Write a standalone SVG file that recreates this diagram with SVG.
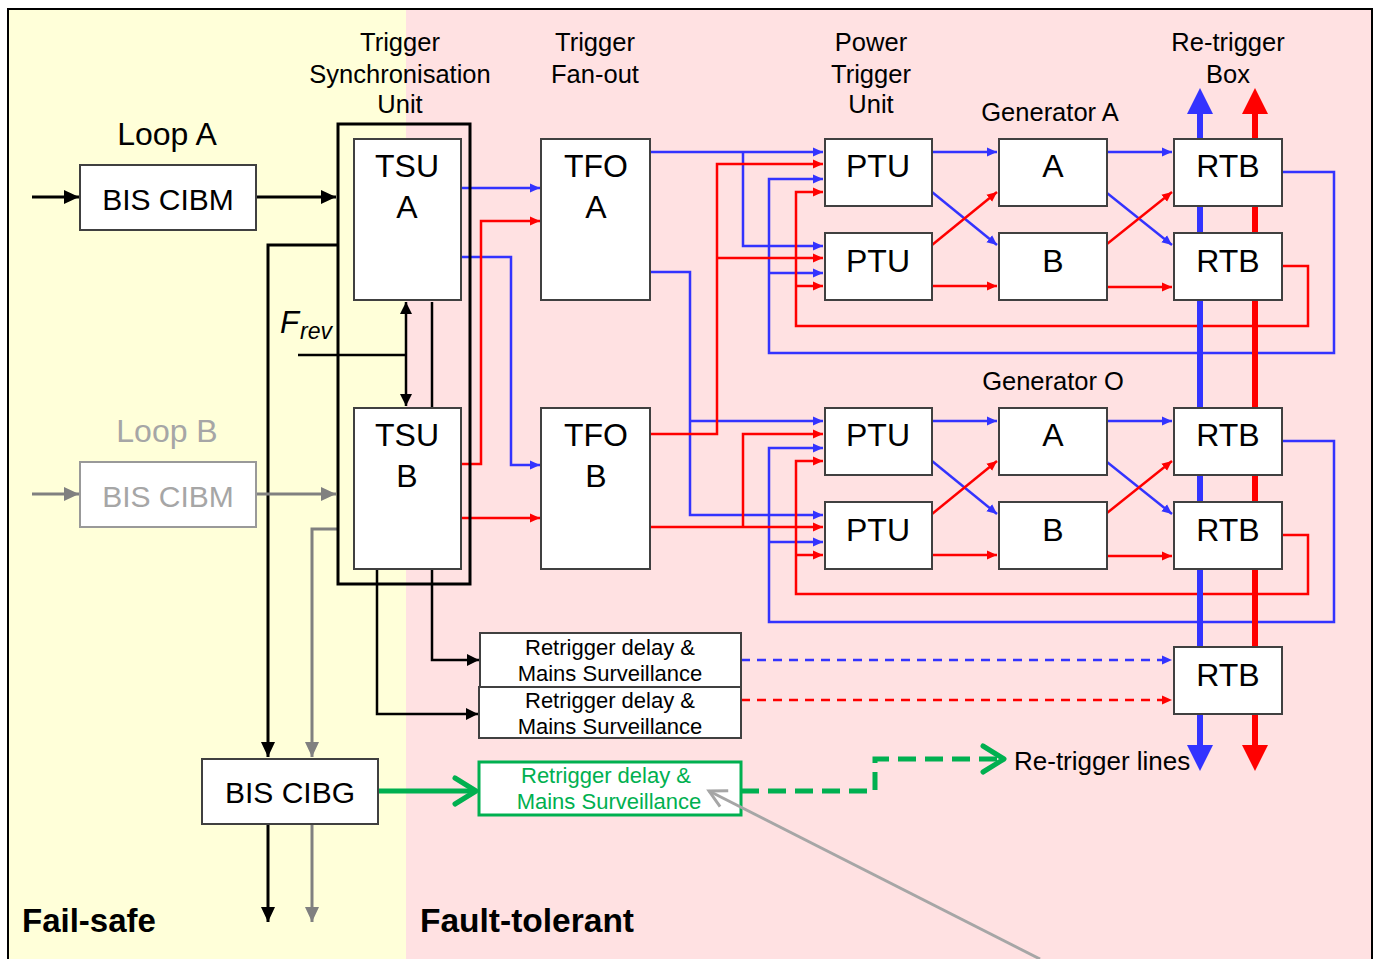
<svg xmlns="http://www.w3.org/2000/svg" width="1376" height="959" viewBox="0 0 1376 959">
<style>
.box{fill:#fff;stroke:#404040;stroke-width:2}
.gbox{fill:#fff;stroke:#999;stroke-width:2}
.t{font-family:"Liberation Sans",Arial,sans-serif;fill:#000}
.big{font-size:32px;text-anchor:middle}
.ttl{font-size:25.5px;text-anchor:middle}
.rt{font-size:22px;text-anchor:middle}
.bl{fill:none;stroke:#3333FF;stroke-width:2.5}
.rd{fill:none;stroke:#FF0000;stroke-width:2.5}
.bk{fill:none;stroke:#000;stroke-width:3}
.gr{fill:none;stroke:#808080;stroke-width:3}
</style>
<defs>
<marker id="aB" markerUnits="userSpaceOnUse" markerWidth="11" markerHeight="10" refX="10" refY="5" orient="auto"><path d="M0,0.5 L10,5 L0,9.5z" fill="#3333FF"/></marker>
<marker id="aR" markerUnits="userSpaceOnUse" markerWidth="11" markerHeight="10" refX="10" refY="5" orient="auto"><path d="M0,0.5 L10,5 L0,9.5z" fill="#FF0000"/></marker>
<marker id="aK" markerUnits="userSpaceOnUse" markerWidth="16" markerHeight="14" refX="15" refY="7" orient="auto"><path d="M0,0 L15,7 L0,14z" fill="#000"/></marker>
<marker id="aK2" markerUnits="userSpaceOnUse" markerWidth="13" markerHeight="12" refX="12" refY="6" orient="auto-start-reverse"><path d="M0,0 L12,6 L0,12z" fill="#000"/></marker>
<marker id="aG" markerUnits="userSpaceOnUse" markerWidth="16" markerHeight="14" refX="15" refY="7" orient="auto"><path d="M0,0 L15,7 L0,14z" fill="#808080"/></marker>
<marker id="bigB" markerUnits="userSpaceOnUse" markerWidth="28" markerHeight="28" refX="0" refY="14" orient="auto-start-reverse"><path d="M0,1 L26,14 L0,27z" fill="#3333FF"/></marker>
<marker id="bigR" markerUnits="userSpaceOnUse" markerWidth="28" markerHeight="28" refX="0" refY="14" orient="auto-start-reverse"><path d="M0,1 L26,14 L0,27z" fill="#FF0000"/></marker>
<marker id="chG" markerUnits="userSpaceOnUse" markerWidth="30" markerHeight="34" refX="25" refY="17" orient="auto"><path d="M4,4 L25,17 L4,30" fill="none" stroke="#00B050" stroke-width="5" stroke-linecap="round" stroke-linejoin="round"/></marker>
<marker id="chL" markerUnits="userSpaceOnUse" markerWidth="24" markerHeight="24" refX="20" refY="12" orient="auto"><path d="M3,3 L20,12 L3,21" fill="none" stroke="#A6A6A6" stroke-width="3"/></marker>
</defs>

<g id="background">
<rect x="8" y="9" width="398" height="960" fill="#FFFFD9"/>
<rect x="406" y="9" width="966" height="960" fill="#FFE1E2"/>
<rect x="8" y="9" width="1364" height="960" fill="none" stroke="#000" stroke-width="2"/>
</g>

<g id="labels">
<text class="t ttl" x="400" y="51">Trigger</text>
<text class="t ttl" x="400" y="83">Synchronisation</text>
<text class="t ttl" x="400" y="113">Unit</text>
<text class="t ttl" x="595" y="51">Trigger</text>
<text class="t ttl" x="595" y="83">Fan-out</text>
<text class="t ttl" x="871" y="51">Power</text>
<text class="t ttl" x="871" y="83">Trigger</text>
<text class="t ttl" x="871" y="113">Unit</text>
<text class="t ttl" x="1228" y="51">Re-trigger</text>
<text class="t ttl" x="1228" y="83">Box</text>
<text class="t ttl" x="1050" y="121">Generator A</text>
<text class="t ttl" x="1053" y="390">Generator O</text>
<text class="t big" x="167" y="145" style="font-size:32px">Loop A</text>
<text class="t big" x="167" y="442" style="font-size:32px;fill:#A6A6A6">Loop B</text>
<text class="t" x="280" y="333" style="font-size:31px;font-style:italic">F</text>
<text class="t" x="300" y="339" style="font-size:23px;font-style:italic">rev</text>
<text class="t" x="22" y="932" style="font-size:33px;font-weight:bold">Fail-safe</text>
<text class="t" x="420" y="932" style="font-size:33.5px;font-weight:bold">Fault-tolerant</text>
<text class="t" x="1014" y="770" style="font-size:26px">Re-trigger lines</text>
</g>

<g id="connectors">
<path class="bk" d="M32,197 H79" marker-end="url(#aK)"/>
<path class="bk" d="M256,197 H336" marker-end="url(#aK)"/>
<path class="bk" d="M338,245 H268 V757" marker-end="url(#aK)"/>
<path class="bk" d="M268,824 V922" marker-end="url(#aK)"/>
<path class="bk" d="M298,355 H406" style="stroke-width:2.5"/>
<path class="bk" d="M406,302 V406" style="stroke-width:2.5" marker-start="url(#aK2)" marker-end="url(#aK2)"/>
<path class="bk" d="M432,302 V408" style="stroke-width:2.5"/>
<path class="bk" d="M377,569 V714 H478" style="stroke-width:2.5" marker-end="url(#aK2)"/>
<path class="bk" d="M432,569 V660 H479" style="stroke-width:2.5" marker-end="url(#aK2)"/>
<path class="gr" d="M32,494 H79" marker-end="url(#aG)"/>
<path class="gr" d="M256,494 H336" marker-end="url(#aG)"/>
<path class="gr" d="M338,529 H312 V757" marker-end="url(#aG)"/>
<path class="gr" d="M312,824 V922" marker-end="url(#aG)"/>
<path class="bl" d="M461,188 H540" marker-end="url(#aB)"/>
<path class="bl" d="M461,257 H511 V465 H540" marker-end="url(#aB)"/>
<path class="bl" d="M650,152 H823" marker-end="url(#aB)"/>
<path class="bl" d="M743,152 V246 H823" marker-end="url(#aB)"/>
<path class="bl" d="M650,272 H690 V515 H823" marker-end="url(#aB)"/>
<path class="bl" d="M690,421 H823" marker-end="url(#aB)"/>
<path class="bl" d="M1282,172 H1334 V353 H769 V179 H823" marker-end="url(#aB)"/>
<path class="bl" d="M769,273 H823" marker-end="url(#aB)"/>
<path class="bl" d="M1282,441 H1334 V622 H769 V448 H823" marker-end="url(#aB)"/>
<path class="bl" d="M769,542 H823" marker-end="url(#aB)"/>
<path class="bl" d="M932,152 H997" marker-end="url(#aB)"/>
<path class="bl" d="M932,192 L997,245" marker-end="url(#aB)"/>
<path class="bl" d="M932,421 H997" marker-end="url(#aB)"/>
<path class="bl" d="M932,461 L997,514" marker-end="url(#aB)"/>
<path class="bl" d="M1107,152 H1172" marker-end="url(#aB)"/>
<path class="bl" d="M1107,193 L1172,245" marker-end="url(#aB)"/>
<path class="bl" d="M1107,421 H1172" marker-end="url(#aB)"/>
<path class="bl" d="M1107,462 L1172,514" marker-end="url(#aB)"/>
<path class="bl" d="M741,660 H1172" style="stroke-dasharray:9,7" marker-end="url(#aB)"/>
<path class="rd" d="M461,464 H481 V221 H540" marker-end="url(#aR)"/>
<path class="rd" d="M461,518 H540" marker-end="url(#aR)"/>
<path class="rd" d="M650,434 H717 V164 H823" marker-end="url(#aR)"/>
<path class="rd" d="M717,258 H823" marker-end="url(#aR)"/>
<path class="rd" d="M650,527 H823" marker-end="url(#aR)"/>
<path class="rd" d="M743,527 V434 H823" marker-end="url(#aR)"/>
<path class="rd" d="M1282,266 H1308 V326 H796 V192 H823" marker-end="url(#aR)"/>
<path class="rd" d="M796,286 H823" marker-end="url(#aR)"/>
<path class="rd" d="M1282,535 H1308 V594 H796 V461 H823" marker-end="url(#aR)"/>
<path class="rd" d="M796,555 H823" marker-end="url(#aR)"/>
<path class="rd" d="M932,245 L997,192" marker-end="url(#aR)"/>
<path class="rd" d="M932,286 H997" marker-end="url(#aR)"/>
<path class="rd" d="M932,514 L997,461" marker-end="url(#aR)"/>
<path class="rd" d="M932,555 H997" marker-end="url(#aR)"/>
<path class="rd" d="M1107,244 L1172,192" marker-end="url(#aR)"/>
<path class="rd" d="M1107,287 H1172" marker-end="url(#aR)"/>
<path class="rd" d="M1107,513 L1172,461" marker-end="url(#aR)"/>
<path class="rd" d="M1107,556 H1172" marker-end="url(#aR)"/>
<path class="rd" d="M741,700 H1172" style="stroke-dasharray:9,7" marker-end="url(#aR)"/>
<path d="M1200,745 V114" fill="none" stroke="#3333FF" stroke-width="6" marker-start="url(#bigB)" marker-end="url(#bigB)"/>
<path d="M1255,745 V114" fill="none" stroke="#FF0000" stroke-width="6" marker-start="url(#bigR)" marker-end="url(#bigR)"/>
<path d="M378,791 H476" fill="none" stroke="#00B050" stroke-width="5" marker-end="url(#chG)"/>
<path d="M741,791 H875 V759 H1004" fill="none" stroke="#00B050" stroke-width="5" stroke-dasharray="18,9" marker-end="url(#chG)"/>
</g>

<g id="bis-cibm-a"><rect class="box" x="80" y="165" width="176" height="65"/><text class="t big" x="168" y="210" style="font-size:30px">BIS CIBM</text></g>
<g id="bis-cibm-b"><rect class="gbox" x="80" y="462" width="176" height="65"/><text class="t big" x="168" y="507" style="font-size:30px;fill:#A6A6A6">BIS CIBM</text></g>
<g id="bis-cibg"><rect class="box" x="202" y="759" width="176" height="65"/><text class="t big" x="290" y="803" style="font-size:30px">BIS CIBG</text></g>

<g id="tsu"><rect x="338" y="124" width="132" height="460" fill="none" stroke="#000" stroke-width="3"/></g>
<g id="tsu-a"><rect class="box" x="354" y="139" width="107" height="161"/><text class="t big" x="407" y="177">TSU</text><text class="t big" x="407" y="218">A</text></g>
<g id="tsu-b"><rect class="box" x="354" y="408" width="107" height="161"/><text class="t big" x="407" y="446">TSU</text><text class="t big" x="407" y="487">B</text></g>
<g id="tfo-a"><rect class="box" x="541" y="139" width="109" height="161"/><text class="t big" x="596" y="177">TFO</text><text class="t big" x="596" y="218">A</text></g>
<g id="tfo-b"><rect class="box" x="541" y="408" width="109" height="161"/><text class="t big" x="596" y="446">TFO</text><text class="t big" x="596" y="487">B</text></g>

<g id="ptu-1"><rect class="box" x="825" y="139" width="107" height="67"/><text class="t big" x="878" y="177">PTU</text></g>
<g id="ptu-2"><rect class="box" x="825" y="233" width="107" height="67"/><text class="t big" x="878" y="272">PTU</text></g>
<g id="ptu-3"><rect class="box" x="825" y="408" width="107" height="67"/><text class="t big" x="878" y="446">PTU</text></g>
<g id="ptu-4"><rect class="box" x="825" y="502" width="107" height="67"/><text class="t big" x="878" y="541">PTU</text></g>

<g id="gen-a-a"><rect class="box" x="999" y="139" width="108" height="67"/><text class="t big" x="1053" y="177">A</text></g>
<g id="gen-a-b"><rect class="box" x="999" y="233" width="108" height="67"/><text class="t big" x="1053" y="272">B</text></g>
<g id="gen-o-a"><rect class="box" x="999" y="408" width="108" height="67"/><text class="t big" x="1053" y="446">A</text></g>
<g id="gen-o-b"><rect class="box" x="999" y="502" width="108" height="67"/><text class="t big" x="1053" y="541">B</text></g>

<g id="rtb-1"><rect class="box" x="1174" y="139" width="108" height="67"/><text class="t big" x="1228" y="177">RTB</text></g>
<g id="rtb-2"><rect class="box" x="1174" y="233" width="108" height="67"/><text class="t big" x="1228" y="272">RTB</text></g>
<g id="rtb-3"><rect class="box" x="1174" y="408" width="108" height="67"/><text class="t big" x="1228" y="446">RTB</text></g>
<g id="rtb-4"><rect class="box" x="1174" y="502" width="108" height="67"/><text class="t big" x="1228" y="541">RTB</text></g>
<g id="rtb-5"><rect class="box" x="1174" y="647" width="108" height="67"/><text class="t big" x="1228" y="686">RTB</text></g>

<g id="retrigger-1"><rect class="box" x="480" y="633" width="261" height="54"/><text class="t rt" x="610" y="655">Retrigger delay &amp;</text><text class="t rt" x="610" y="681">Mains Surveillance</text></g>
<g id="retrigger-2"><rect class="box" x="479" y="687" width="262" height="51"/><text class="t rt" x="610" y="708">Retrigger delay &amp;</text><text class="t rt" x="610" y="734">Mains Surveillance</text></g>
<g id="retrigger-3"><rect x="479" y="762" width="262" height="53" fill="#fff" stroke="#00B050" stroke-width="3"/><text class="t rt" x="606" y="783" style="fill:#00B050">Retrigger delay &amp;</text><text class="t rt" x="609" y="809" style="fill:#00B050">Mains Surveillance</text></g>

<g id="pointer">
<path d="M1040,959 L709,791" fill="none" stroke="#A6A6A6" stroke-width="3" marker-end="url(#chL)"/>
</g>
</svg>
